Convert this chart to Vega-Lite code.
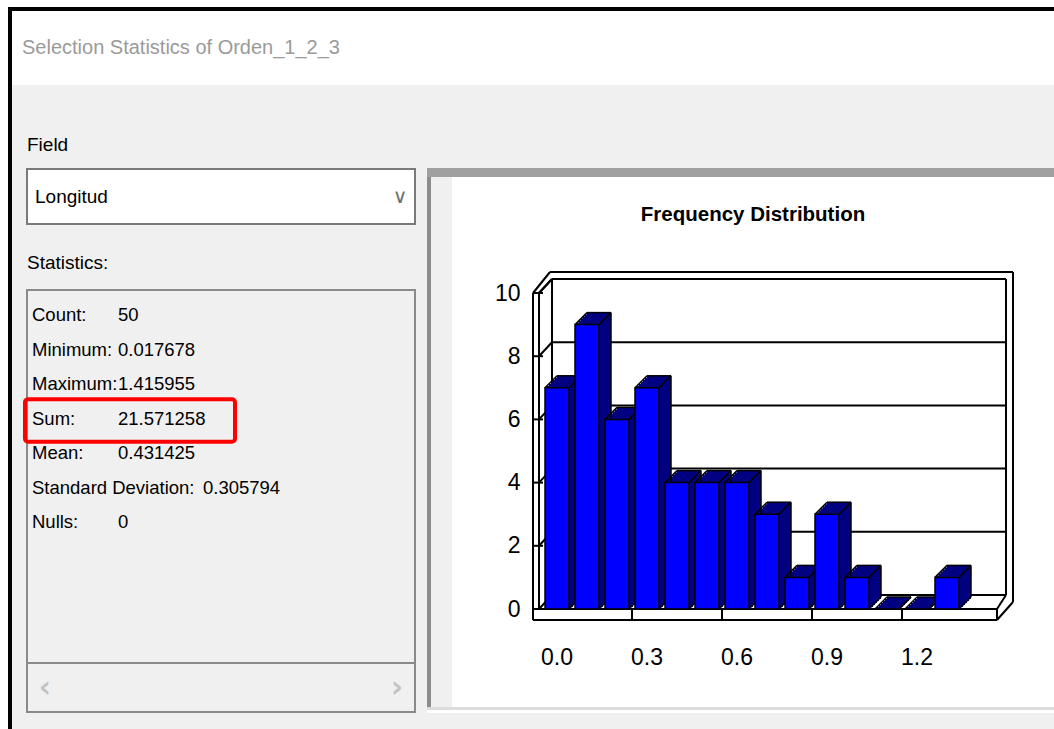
{
  "$schema": "https://vega.github.io/schema/vega-lite/v6.json",
  "background": "#f0f0f0",
  "padding": 0,
  "spacing": 0,
  "bounds": "flush",
  "datasets": {
    "bins": [
      {"bin": "0.0", "count": 7}, {"bin": "0.1", "count": 9}, {"bin": "0.2", "count": 6}, {"bin": "0.3", "count": 7},
      {"bin": "0.4", "count": 4}, {"bin": "0.5", "count": 4}, {"bin": "0.6", "count": 4}, {"bin": "0.7", "count": 3},
      {"bin": "0.8", "count": 1}, {"bin": "0.9", "count": 3}, {"bin": "1.0", "count": 1}, {"bin": "1.1", "count": 0},
      {"bin": "1.2", "count": 0}, {"bin": "1.3", "count": 1}
    ],
    "ticks": [{"tick": 0}, {"tick": 2}, {"tick": 4}, {"tick": 6}, {"tick": 8}, {"tick": 10}],
    "stats": [
      {"stat": "Count:", "value": "50"},
      {"stat": "Minimum:", "value": "0.017678"},
      {"stat": "Maximum:", "value": "1.415955"},
      {"stat": "Sum:", "value": "21.571258"},
      {"stat": "Mean:", "value": "0.431425"},
      {"stat": "Standard Deviation:", "value": "0.305794"},
      {"stat": "Nulls:", "value": "0"}
    ],
    "frame": [{"element": "frame"}]
  },
  "config": {
    "view": {"stroke": null},
    "text": {"font": "Liberation Sans, Arial, sans-serif", "fontSize": 19, "color": "#000000", "baseline": "middle"},
    "axis": {"labelFont": "Liberation Sans, Arial, sans-serif", "labelFontSize": 23, "labelColor": "#000000"},
    "rule": {"color": "#000000", "strokeWidth": 2}
  },
  "hconcat": [
    {"width": 8, "height": 729, "data": {"values": []}, "mark": "rect", "view": {"fill": "#ffffff"}},
    {
      "spacing": 0, "bounds": "flush",
      "vconcat": [
        {"width": 1046, "height": 7, "data": {"values": []}, "mark": "rect", "view": {"fill": "#ffffff"}},
        {
          "spacing": 0, "bounds": "flush",
          "hconcat": [
            {"width": 4, "height": 722, "data": {"values": []}, "mark": "rect", "view": {"fill": "#000000"}},
            {
              "spacing": 0, "bounds": "flush",
              "vconcat": [
                {"width": 1042, "height": 4, "data": {"values": []}, "mark": "rect", "view": {"fill": "#000000"}},
                {
                  "width": 1042, "height": 74, "view": {"fill": "#ffffff"},
                  "data": {"values": [{"caption": "Selection Statistics of Orden_1_2_3"}]},
                  "mark": {"type": "text", "align": "left", "dx": 10, "fontSize": 20, "color": "#9a9a9a"},
                  "encoding": {
                    "x": {"datum": 0, "type": "quantitative", "scale": {"domain": [0, 1]}, "axis": null},
                    "text": {"field": "caption"}
                  }
                },
                {
                  "spacing": 0, "bounds": "flush",
                  "hconcat": [
                    {"width": 15, "height": 644, "data": {"values": []}, "mark": "rect"},
                    {
                      "spacing": 0, "bounds": "flush",
                      "vconcat": [
                        {"width": 388, "height": 36, "data": {"values": []}, "mark": "rect"},
                        {
                          "width": 388, "height": 48,
                          "data": {"values": [{"caption": "Field"}]},
                          "mark": {"type": "text", "align": "left"},
                          "encoding": {
                            "x": {"datum": 0, "type": "quantitative", "scale": {"domain": [0, 1]}, "axis": null},
                            "text": {"field": "caption"}
                          }
                        },
                        {
                          "width": 388, "height": 55,
                          "view": {"fill": "#ffffff", "stroke": "#7a7a7a", "strokeWidth": 2},
                          "data": {"values": [{"selected": "Longitud", "button": "∨"}]},
                          "layer": [
                            {
                              "mark": {"type": "text", "align": "left", "dx": 8},
                              "encoding": {
                                "x": {"datum": 0, "type": "quantitative", "scale": {"domain": [0, 1]}, "axis": null},
                                "text": {"field": "selected"}
                              }
                            },
                            {
                              "mark": {"type": "text", "align": "center", "dx": -15, "font": "DejaVu Sans", "fontSize": 20, "color": "#707070"},
                              "encoding": {
                                "x": {"datum": 1, "type": "quantitative", "scale": {"domain": [0, 1]}, "axis": null},
                                "text": {"field": "button"}
                              }
                            }
                          ]
                        },
                        {"width": 388, "height": 12, "data": {"values": []}, "mark": "rect"},
                        {
                          "width": 388, "height": 54,
                          "data": {"values": [{"caption": "Statistics:"}]},
                          "mark": {"type": "text", "align": "left"},
                          "encoding": {
                            "x": {"datum": 0, "type": "quantitative", "scale": {"domain": [0, 1]}, "axis": null},
                            "text": {"field": "caption"}
                          }
                        },
                        {
                          "width": 388, "height": 373,
                          "view": {"fill": "#f0f0f0", "stroke": "#8a8a8a", "strokeWidth": 2},
                          "data": {"name": "stats"},
                          "layer": [
                            {
                              "transform": [
                                {"fold": ["stat", "value"], "as": ["part", "txt"]},
                                {"filter": "!(datum.part === 'value' && datum.stat === 'Standard Deviation:')"}
                              ],
                              "mark": {"type": "text", "align": "left", "fontSize": 18.5},
                              "encoding": {
                                "x": {"field": "part", "type": "nominal", "scale": {"type": "point", "domain": ["stat", "value"], "range": [5, 91], "padding": 0}, "axis": null},
                                "y": {"field": "stat", "type": "nominal", "scale": {"type": "band", "domain": ["Count:", "Minimum:", "Maximum:", "Sum:", "Mean:", "Standard Deviation:", "Nulls:"], "range": [7.75, 249.25], "paddingInner": 0, "paddingOuter": 0}, "axis": null},
                                "text": {"field": "txt"}
                              }
                            },
                            {
                              "transform": [{"filter": "datum.stat === 'Standard Deviation:'"}],
                              "mark": {"type": "text", "align": "left", "dx": 85, "fontSize": 18.5},
                              "encoding": {
                                "x": {"datum": "value", "type": "nominal"},
                                "y": {"field": "stat", "type": "nominal"},
                                "text": {"field": "value"}
                              }
                            },
                            {
                              "transform": [{"filter": "datum.stat === 'Sum:'"}],
                              "mark": {"type": "rect", "filled": false, "stroke": "#ff0000", "strokeWidth": 4, "cornerRadius": 3, "xOffset": -7, "x2Offset": 117, "yOffset": -2, "y2Offset": 6},
                              "encoding": {
                                "x": {"datum": "stat", "type": "nominal"},
                                "x2": {"datum": "value"},
                                "y": {"field": "stat", "type": "nominal", "bandPosition": 0},
                                "y2": {"field": "stat", "bandPosition": 1}
                              }
                            }
                          ]
                        },
                        {
                          "width": 388, "height": 49,
                          "view": {"fill": "#f0f0f0", "stroke": "#8a8a8a", "strokeWidth": 2},
                          "data": {"values": [{"back": "‹", "forward": "›"}]},
                          "layer": [
                            {
                              "mark": {"type": "text", "align": "center", "dx": 18, "font": "DejaVu Sans", "fontSize": 30, "fontWeight": "bold", "color": "#c3c3c3"},
                              "encoding": {
                                "x": {"datum": 0, "type": "quantitative", "scale": {"domain": [0, 1]}, "axis": null},
                                "text": {"field": "back"}
                              }
                            },
                            {
                              "mark": {"type": "text", "align": "center", "dx": -18, "font": "DejaVu Sans", "fontSize": 30, "fontWeight": "bold", "color": "#c3c3c3"},
                              "encoding": {
                                "x": {"datum": 1, "type": "quantitative", "scale": {"domain": [0, 1]}, "axis": null},
                                "text": {"field": "forward"}
                              }
                            }
                          ]
                        },
                        {"width": 388, "height": 17, "data": {"values": []}, "mark": "rect"}
                      ]
                    },
                    {"width": 400, "height": 644, "data": {"values": []}, "mark": "rect"},
                    {
                      "spacing": 0, "bounds": "flush",
                      "vconcat": [
                        {"width": 627, "height": 83, "data": {"values": []}, "mark": "rect"},
                        {"width": 627, "height": 9, "data": {"values": []}, "mark": "rect", "view": {"fill": "#a0a0a0"}},
                        {
                          "spacing": 0, "bounds": "flush",
                          "hconcat": [
                            {"width": 4, "height": 530, "data": {"values": []}, "mark": "rect", "view": {"fill": "#8c8c8c"}},
                            {"width": 21, "height": 530, "data": {"values": []}, "mark": "rect"},
                            {
                              "spacing": 0, "bounds": "flush",
                              "vconcat": [
                                {
                                  "width": 602, "height": 76, "view": {"fill": "#ffffff"},
                                  "data": {"values": [{"caption": "Frequency Distribution"}]},
                                  "mark": {"type": "text", "fontSize": 20.5, "fontWeight": "bold"},
                                  "encoding": {"text": {"field": "caption"}}
                                },
                                {
                                  "width": 602, "height": 454, "view": {"fill": "#ffffff"},
                                  "data": {"name": "bins"},
                                  "layer": [
                                    {
                                      "data": {"name": "ticks"},
                                      "mark": {"type": "rule", "xOffset": 7, "x2Offset": 47, "yOffset": -14},
                                      "encoding": {
                                        "x": {"datum": "0.0", "type": "ordinal", "bandPosition": 0,
                                          "scale": {"type": "band", "domain": ["0.0","0.1","0.2","0.3","0.4","0.5","0.6","0.7","0.8","0.9","1.0","1.1","1.2","1.3"], "range": [93, 507], "paddingInner": 0.2, "paddingOuter": 0},
                                          "axis": {"values": ["0.0","0.3","0.6","0.9","1.2"], "orient": "bottom", "offset": -87, "labelPadding": 26, "labelAngle": 0, "title": null, "domain": false, "ticks": false, "grid": false}},
                                        "x2": {"datum": "1.3", "bandPosition": 1},
                                        "y": {"field": "tick", "type": "quantitative",
                                          "scale": {"domain": [0, 10], "range": [356, 40], "nice": false, "zero": false},
                                          "axis": {"values": [0, 2, 4, 6, 8, 10], "orient": "left", "offset": -81, "labelPadding": 13, "title": null, "domain": false, "ticks": false, "grid": false}}
                                      }
                                    },
                                    {
                                      "data": {"name": "ticks"},
                                      "mark": {"type": "rule", "xOffset": -6, "x2Offset": 7, "y2Offset": -14},
                                      "encoding": {
                                        "x": {"datum": "0.0", "type": "ordinal", "bandPosition": 0},
                                        "x2": {"datum": "0.0", "bandPosition": 0},
                                        "y": {"field": "tick", "type": "quantitative"},
                                        "y2": {"field": "tick"}
                                      }
                                    },
                                    {
                                      "data": {"name": "ticks"},
                                      "mark": {"type": "rule", "xOffset": -12, "x2Offset": -2},
                                      "encoding": {
                                        "x": {"datum": "0.0", "type": "ordinal", "bandPosition": 0},
                                        "x2": {"datum": "0.0", "bandPosition": 0},
                                        "y": {"field": "tick", "type": "quantitative"}
                                      }
                                    },
                                    {
                                      "data": {"name": "frame"},
                                      "mark": {"type": "rule", "xOffset": -12, "y2Offset": 11},
                                      "encoding": {"x": {"datum": "0.0", "type": "ordinal", "bandPosition": 0}, "y": {"datum": 10, "type": "quantitative"}, "y2": {"datum": 0}}
                                    },
                                    {
                                      "data": {"name": "frame"},
                                      "mark": {"type": "rule", "xOffset": -6},
                                      "encoding": {"x": {"datum": "0.0", "type": "ordinal", "bandPosition": 0}, "y": {"datum": 10, "type": "quantitative"}, "y2": {"datum": 0}}
                                    },
                                    {
                                      "data": {"name": "frame"},
                                      "mark": {"type": "rule", "xOffset": -12, "x2Offset": -6},
                                      "encoding": {"x": {"datum": "0.0", "type": "ordinal", "bandPosition": 0}, "x2": {"datum": "0.0", "bandPosition": 0}, "y": {"datum": 10, "type": "quantitative"}}
                                    },
                                    {
                                      "data": {"name": "frame"},
                                      "mark": {"type": "rule", "xOffset": -12, "x2Offset": 5, "y2Offset": -21},
                                      "encoding": {"x": {"datum": "0.0", "type": "ordinal", "bandPosition": 0}, "x2": {"datum": "0.0", "bandPosition": 0}, "y": {"datum": 10, "type": "quantitative"}, "y2": {"datum": 10}}
                                    },
                                    {
                                      "data": {"name": "frame"},
                                      "mark": {"type": "rule", "xOffset": -6, "x2Offset": 7, "y2Offset": -14},
                                      "encoding": {"x": {"datum": "0.0", "type": "ordinal", "bandPosition": 0}, "x2": {"datum": "0.0", "bandPosition": 0}, "y": {"datum": 10, "type": "quantitative"}, "y2": {"datum": 10}}
                                    },
                                    {
                                      "data": {"name": "frame"},
                                      "mark": {"type": "rule", "xOffset": 5, "x2Offset": 54, "yOffset": -21},
                                      "encoding": {"x": {"datum": "0.0", "type": "ordinal", "bandPosition": 0}, "x2": {"datum": "1.3", "bandPosition": 1}, "y": {"datum": 10, "type": "quantitative"}}
                                    },
                                    {
                                      "data": {"name": "frame"},
                                      "mark": {"type": "rule", "xOffset": 7, "yOffset": -14, "y2Offset": -14},
                                      "encoding": {"x": {"datum": "0.0", "type": "ordinal", "bandPosition": 0}, "y": {"datum": 10, "type": "quantitative"}, "y2": {"datum": 0}}
                                    },
                                    {
                                      "data": {"name": "frame"},
                                      "mark": {"type": "rule", "xOffset": 47, "yOffset": -14, "y2Offset": -14},
                                      "encoding": {"x": {"datum": "1.3", "type": "ordinal", "bandPosition": 1}, "y": {"datum": 10, "type": "quantitative"}, "y2": {"datum": 0}}
                                    },
                                    {
                                      "data": {"name": "frame"},
                                      "mark": {"type": "rule", "xOffset": 54, "yOffset": -21, "y2Offset": -7},
                                      "encoding": {"x": {"datum": "1.3", "type": "ordinal", "bandPosition": 1}, "y": {"datum": 10, "type": "quantitative"}, "y2": {"datum": 0}}
                                    },
                                    {
                                      "data": {"name": "frame"},
                                      "mark": {"type": "rule", "xOffset": -12, "x2Offset": 38},
                                      "encoding": {"x": {"datum": "0.0", "type": "ordinal", "bandPosition": 0}, "x2": {"datum": "1.3", "bandPosition": 1}, "y": {"datum": 0, "type": "quantitative"}}
                                    },
                                    {
                                      "data": {"name": "frame"},
                                      "mark": {"type": "rule", "xOffset": -12, "x2Offset": 38, "yOffset": 11},
                                      "encoding": {"x": {"datum": "0.0", "type": "ordinal", "bandPosition": 0}, "x2": {"datum": "1.3", "bandPosition": 1}, "y": {"datum": 0, "type": "quantitative"}}
                                    },
                                    {
                                      "data": {"name": "frame"},
                                      "mark": {"type": "rule", "xOffset": 38, "y2Offset": 11},
                                      "encoding": {"x": {"datum": "1.3", "type": "ordinal", "bandPosition": 1}, "y": {"datum": 0, "type": "quantitative"}, "y2": {"datum": 0}}
                                    },
                                    {
                                      "data": {"name": "frame"},
                                      "mark": {"type": "rule", "xOffset": 38, "x2Offset": 47, "y2Offset": -14},
                                      "encoding": {"x": {"datum": "1.3", "type": "ordinal", "bandPosition": 1}, "x2": {"datum": "1.3", "bandPosition": 1}, "y": {"datum": 0, "type": "quantitative"}, "y2": {"datum": 0}}
                                    },
                                    {
                                      "data": {"name": "frame"},
                                      "mark": {"type": "rule", "xOffset": 38, "x2Offset": 54, "yOffset": 11, "y2Offset": -7},
                                      "encoding": {"x": {"datum": "1.3", "type": "ordinal", "bandPosition": 1}, "x2": {"datum": "1.3", "bandPosition": 1}, "y": {"datum": 0, "type": "quantitative"}, "y2": {"datum": 0}}
                                    },
                                    {
                                      "transform": [{"filter": "indexof(['0.3','0.6','0.9','1.2'], datum.bin) >= 0"}],
                                      "mark": {"type": "rule", "xOffset": -3, "y2Offset": 11},
                                      "encoding": {"x": {"field": "bin", "type": "ordinal", "bandPosition": 0}, "y": {"datum": 0, "type": "quantitative"}, "y2": {"datum": 0}}
                                    },
                                    {"mark": {"type": "bar", "color": "#000080", "xOffset": 2, "yOffset": -2, "y2Offset": 0},
                                     "encoding": {"x": {"field": "bin", "type": "ordinal"}, "y": {"field": "count", "type": "quantitative"}, "y2": {"datum": 0}}},
                                    {"mark": {"type": "bar", "color": "#000080", "xOffset": 4, "yOffset": -4, "y2Offset": -2},
                                     "encoding": {"x": {"field": "bin", "type": "ordinal"}, "y": {"field": "count", "type": "quantitative"}, "y2": {"datum": 0}}},
                                    {"mark": {"type": "bar", "color": "#000080", "xOffset": 6, "yOffset": -6, "y2Offset": -4},
                                     "encoding": {"x": {"field": "bin", "type": "ordinal"}, "y": {"field": "count", "type": "quantitative"}, "y2": {"datum": 0}}},
                                    {"mark": {"type": "bar", "color": "#000080", "xOffset": 8, "yOffset": -8, "y2Offset": -6},
                                     "encoding": {"x": {"field": "bin", "type": "ordinal"}, "y": {"field": "count", "type": "quantitative"}, "y2": {"datum": 0}}},
                                    {"mark": {"type": "bar", "color": "#000080", "xOffset": 10, "yOffset": -10, "y2Offset": -8},
                                     "encoding": {"x": {"field": "bin", "type": "ordinal"}, "y": {"field": "count", "type": "quantitative"}, "y2": {"datum": 0}}},
                                    {"mark": {"type": "bar", "color": "#000080", "xOffset": 12, "yOffset": -12, "y2Offset": -10},
                                     "encoding": {"x": {"field": "bin", "type": "ordinal"}, "y": {"field": "count", "type": "quantitative"}, "y2": {"datum": 0}}},
                                    {"mark": {"type": "rule", "strokeWidth": 1.5, "x2Offset": 12, "y2Offset": -12},
                                     "encoding": {"x": {"field": "bin", "type": "ordinal", "bandPosition": 0}, "x2": {"field": "bin", "bandPosition": 0}, "y": {"field": "count", "type": "quantitative"}, "y2": {"field": "count"}}},
                                    {"mark": {"type": "rule", "strokeWidth": 1.5, "x2Offset": 12, "y2Offset": -12},
                                     "encoding": {"x": {"field": "bin", "type": "ordinal", "bandPosition": 1}, "x2": {"field": "bin", "bandPosition": 1}, "y": {"field": "count", "type": "quantitative"}, "y2": {"field": "count"}}},
                                    {"mark": {"type": "rule", "strokeWidth": 1.5, "xOffset": 12, "x2Offset": 12, "yOffset": -12},
                                     "encoding": {"x": {"field": "bin", "type": "ordinal", "bandPosition": 0}, "x2": {"field": "bin", "bandPosition": 1}, "y": {"field": "count", "type": "quantitative"}}},
                                    {"mark": {"type": "rule", "strokeWidth": 1.5, "xOffset": 12, "yOffset": -12, "y2Offset": -12},
                                     "encoding": {"x": {"field": "bin", "type": "ordinal", "bandPosition": 1}, "y": {"field": "count", "type": "quantitative"}, "y2": {"datum": 0}}},
                                    {"mark": {"type": "rule", "strokeWidth": 1.5, "x2Offset": 12, "y2Offset": -12},
                                     "encoding": {"x": {"field": "bin", "type": "ordinal", "bandPosition": 1}, "x2": {"field": "bin", "bandPosition": 1}, "y": {"datum": 0, "type": "quantitative"}, "y2": {"datum": 0}}},
                                    {"mark": {"type": "bar", "color": "#0000ff", "stroke": "#000000", "strokeWidth": 1.5},
                                     "encoding": {"x": {"field": "bin", "type": "ordinal"}, "y": {"field": "count", "type": "quantitative"}, "y2": {"datum": 0}}}
                                  ]
                                }
                              ]
                            }
                          ]
                        },
                        {"width": 627, "height": 530, "data": {"values": []}, "mark": "rect"},
                        {"width": 627, "height": 3, "data": {"values": []}, "mark": "rect", "view": {"fill": "#dcdcdc"}},
                        {"width": 627, "height": 3, "data": {"values": []}, "mark": "rect", "view": {"fill": "#ffffff"}},
                        {"width": 627, "height": 16, "data": {"values": []}, "mark": "rect"}
                      ]
                    }
                  ]
                }
              ]
            }
          ]
        }
      ]
    }
  ]
}
